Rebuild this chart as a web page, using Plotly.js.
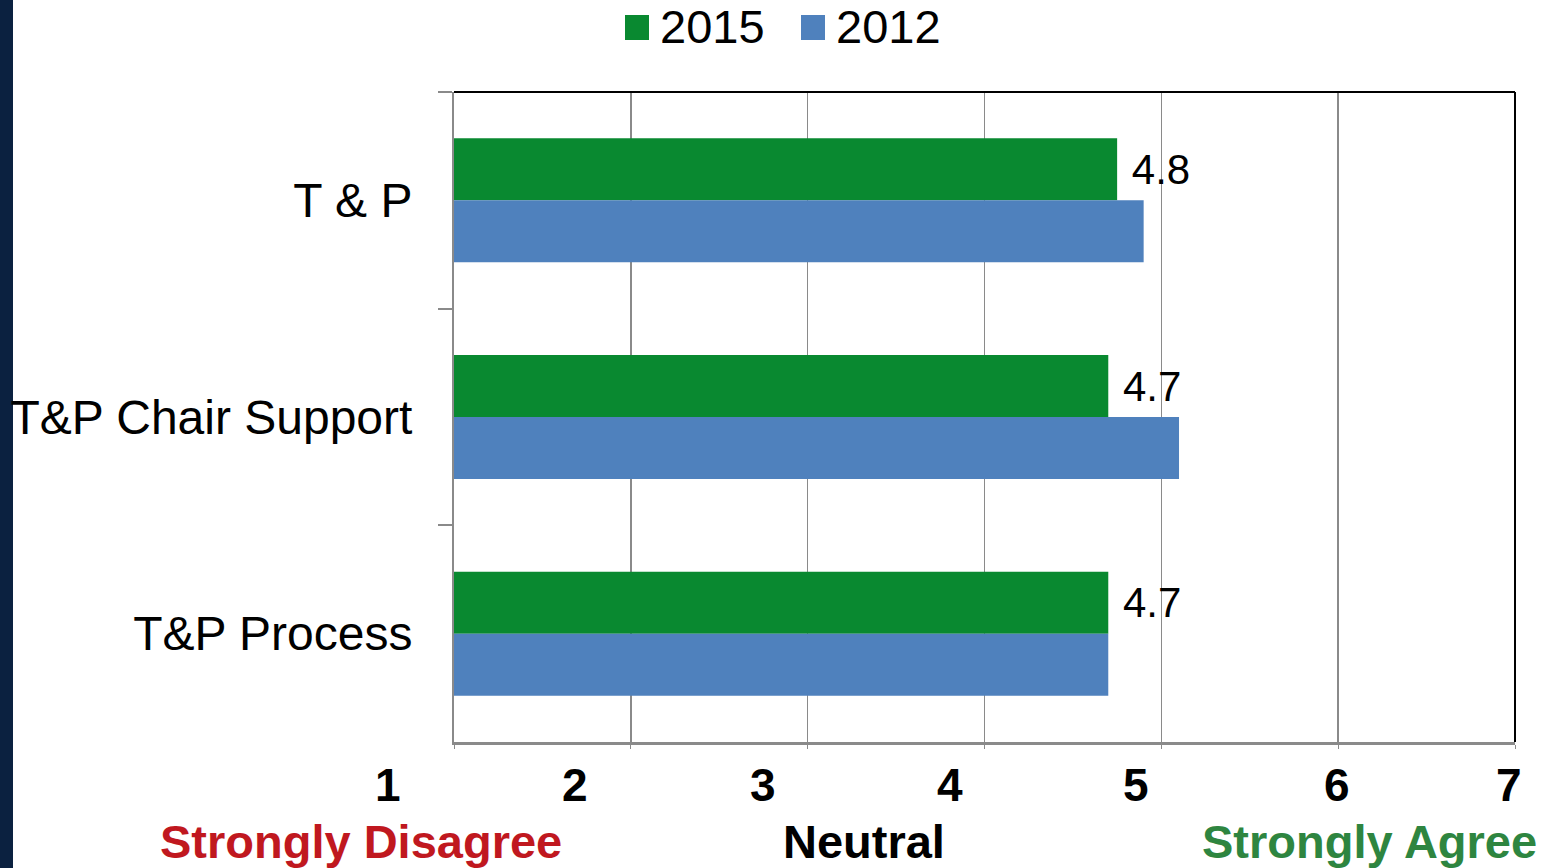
<!DOCTYPE html>
<html>
<head>
<meta charset="utf-8">
<script src="https://cdn.plot.ly/plotly-3.0.1.min.js"></script>
<style>html,body{margin:0;padding:0;background:#fff;}#chart{width:1545px;height:868px;}</style>
</head>
<body>
<div id="chart"></div>
<script>
// ---- data ----
const categories = ["T & P", "T&P Chair Support", "T&P Process"];
const seriesNames = ["2015", "2012"];
const values2015 = [4.75, 4.70, 4.70];
const values2012 = [4.90, 5.10, 4.70];
const labels2015 = ["4.8", "4.7", "4.7"];
const scaleTicks = ["1", "2", "3", "4", "5", "6", "7"];
const scaleAnchors = ["Strongly Disagree", "Neutral", "Strongly Agree"];

// ---- style ----
const GREEN = "#098930", BLUE = "#4F81BD";
const FONT = "Liberation Sans, Arial, sans-serif";
const W = 1545, H = 868, L = 454, R = 1515, T = 92, B = 742;
const px = x => (x - L) / (R - L);
const py = y => (B - y) / (B - T);

const traces = [
  {type: "bar", orientation: "h", name: seriesNames[0], y: categories, x: values2015,
   marker: {color: GREEN}, text: labels2015.map(s => "\u00a0" + s), textposition: "outside",
   textfont: {size: 42, color: "#000", family: FONT}, cliponaxis: false, constraintext: "none",
   showlegend: false, hoverinfo: "x+name"},
  {type: "bar", orientation: "h", name: seriesNames[1], y: categories, x: values2012,
   marker: {color: BLUE}, showlegend: false, hoverinfo: "x+name"}
];

const tickCenters = [388, 575, 763, 950, 1136, 1337, 1509];
const anchorCenters = [361, 864, 1369];
const anchorColors = ["#C0181F", "#000000", "#2E8540"];

const annotations = [];
scaleTicks.forEach((t, i) => annotations.push({
  xref: "paper", yref: "paper", x: px(tickCenters[i]), y: py(785), text: t, showarrow: false,
  xanchor: "center", yanchor: "middle", font: {size: 46, family: FONT, color: "#000", weight: "bold"}
}));
scaleAnchors.forEach((t, i) => annotations.push({
  xref: "paper", yref: "paper", x: px(anchorCenters[i]), y: py(842), text: "<b>" + t + "</b>", showarrow: false,
  xanchor: "center", yanchor: "middle", font: {size: 47, family: FONT, color: anchorColors[i]}
}));
// legend
const legendSwatchX = [625, 801];
const legendColors = [GREEN, BLUE];
const shapes = [];
seriesNames.forEach((n, i) => {
  shapes.push({type: "rect", xref: "paper", yref: "paper", x0: px(legendSwatchX[i]), x1: px(legendSwatchX[i] + 24),
    y0: py(40), y1: py(15), fillcolor: legendColors[i], line: {width: 0}});
  annotations.push({xref: "paper", yref: "paper", x: px(legendSwatchX[i] + 33), y: py(27), text: n, showarrow: false,
    xanchor: "left", yanchor: "middle", font: {size: 47, family: FONT, color: "#000"}});
});
// left navy strip
shapes.push({type: "rect", xref: "paper", yref: "paper", x0: px(0), x1: px(13), y0: py(H), y1: py(0),
  fillcolor: "#0B2140", line: {width: 0}, layer: "below"});
// top & right black border
shapes.push({type: "line", xref: "paper", yref: "paper", x0: 0, x1: 1, y0: 1, y1: 1, line: {color: "#000", width: 2}});
shapes.push({type: "line", xref: "paper", yref: "paper", x0: 1, x1: 1, y0: 0, y1: 1, line: {color: "#000", width: 2}});

const layout = {
  width: W, height: H,
  margin: {l: L, r: W - R, t: T, b: H - B, pad: 0},
  paper_bgcolor: "#fff", plot_bgcolor: "#fff",
  font: {family: FONT, color: "#000"},
  barmode: "group", bargap: 0.428, bargroupgap: 0,
  showlegend: false,
  xaxis: {range: [1, 7], dtick: 1, tick0: 1, showticklabels: false, showgrid: true, gridcolor: "#8a8a8a", gridwidth: 1.5,
    showline: true, linecolor: "#8a8a8a", linewidth: 2.5, ticks: "outside", ticklen: 4, tickcolor: "#8a8a8a", zeroline: false,
    fixedrange: true},
  yaxis: {type: "category", autorange: "reversed", showline: true, linecolor: "#8a8a8a", linewidth: 2,
    ticks: "outside", tickson: "boundaries", ticklen: 14, tickwidth: 2, tickcolor: "#8a8a8a", ticklabelstandoff: 30,
    tickfont: {size: 48, family: FONT, color: "#000"}, showgrid: false, fixedrange: true},
  annotations: annotations,
  shapes: shapes
};

Plotly.newPlot("chart", traces, layout, {displayModeBar: false, staticPlot: true});
</script>
</body>
</html>
